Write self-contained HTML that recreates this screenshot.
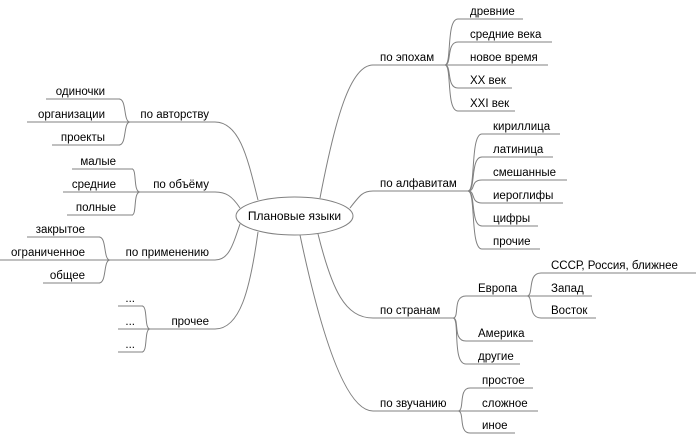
<!DOCTYPE html>
<html><head><meta charset="utf-8"><style>
html,body{margin:0;padding:0;background:#fff;width:696px;height:434px;overflow:hidden}
svg{display:block}
text{font-family:"Liberation Sans",Arial,sans-serif;font-size:11.5px;fill:#000}
.e{text-anchor:end}
path,line{stroke:#808080;stroke-width:1;fill:none}
</style></head><body>
<svg width="696" height="434" viewBox="0 0 696 434" xmlns="http://www.w3.org/2000/svg">
<path d="M258,200 C248,160 240,122 215,122"/>
<path d="M240,208 C232,196 226,192 215,192"/>
<path d="M240,224 C232,248 228,260 215,260"/>
<path d="M258,232 C250,290 240,329 215,329"/>
<path d="M320,198 C335,120 350,65 373,65"/>
<path d="M350,208 C360,195 363,191 373,191"/>
<path d="M318,234 C332,290 345,318 373,318"/>
<path d="M300,235 C320,330 345,411 373,411"/>
<ellipse cx="294.5" cy="216" rx="58.5" ry="19" fill="#fff" stroke="#808080"/>
<text x="294.5" y="220" text-anchor="middle" style="font-size:12px">Плановые языки</text>

<line x1="130" y1="122" x2="215" y2="122"/><text class="e" x="209" y="118">по авторству</text>
<line x1="46" y1="99" x2="120" y2="99"/><text class="e" x="105" y="95">одиночки</text>
<line x1="27" y1="122" x2="130" y2="122"/><text class="e" x="105" y="118">организации</text>
<line x1="52" y1="145" x2="120" y2="145"/><text class="e" x="105" y="141">проекты</text>
<path d="M130,122 C123,122 127,99 119,99"/><path d="M130,122 C123,122 127,145 119,145"/>

<line x1="140" y1="192" x2="215" y2="192"/><text class="e" x="209" y="188">по объёму</text>
<line x1="72" y1="169" x2="133" y2="169"/><text class="e" x="116" y="165">малые</text>
<line x1="63" y1="192" x2="140" y2="192"/><text class="e" x="116" y="188">средние</text>
<line x1="67" y1="215" x2="133" y2="215"/><text class="e" x="116" y="211">полные</text>
<path d="M140,192 C133,192 137,169 132,169"/><path d="M140,192 C133,192 137,215 132,215"/>

<line x1="110" y1="260" x2="215" y2="260"/><text class="e" x="209" y="256">по применению</text>
<line x1="27" y1="237" x2="100" y2="237"/><text class="e" x="85" y="233">закрытое</text>
<line x1="0" y1="260" x2="110" y2="260"/><text class="e" x="85" y="256">ограниченное</text>
<line x1="43" y1="283" x2="100" y2="283"/><text class="e" x="85" y="279">общее</text>
<path d="M110,260 C103,260 107,237 99,237"/><path d="M110,260 C103,260 107,283 99,283"/>

<line x1="150" y1="329" x2="215" y2="329"/><text class="e" x="209" y="325">прочее</text>
<line x1="118" y1="306" x2="143" y2="306"/><text class="e" x="135" y="302">...</text>
<line x1="118" y1="329" x2="150" y2="329"/><text class="e" x="135" y="325">...</text>
<line x1="118" y1="352" x2="143" y2="352"/><text class="e" x="135" y="348">...</text>
<path d="M150,329 C144,329 148,306 142,306"/><path d="M150,329 C144,329 148,352 142,352"/>

<line x1="373" y1="65" x2="445" y2="65"/><text x="380" y="61">по эпохам</text>
<path d="M445,65 C452,65 446,19 458,19"/><line x1="458" y1="19" x2="523" y2="19"/><text x="470" y="15">древние</text>
<path d="M445,65 C452,65 446,42 458,42"/><line x1="458" y1="42" x2="552" y2="42"/><text x="470" y="38">средние века</text>
<line x1="445" y1="65" x2="548" y2="65"/><text x="470" y="61">новое время</text>
<path d="M445,65 C452,65 446,88 458,88"/><line x1="458" y1="88" x2="512" y2="88"/><text x="470" y="84">XX век</text>
<path d="M445,65 C452,65 446,111 458,111"/><line x1="458" y1="111" x2="515" y2="111"/><text x="470" y="107">XXI век</text>

<line x1="373" y1="191" x2="468" y2="191"/><text x="380" y="187">по алфавитам</text>
<path d="M468,191 C476,191 470,134 482,134"/><line x1="482" y1="134" x2="560" y2="134"/><text x="493" y="130">кириллица</text>
<path d="M468,191 C476,191 470,157 482,157"/><line x1="482" y1="157" x2="553" y2="157"/><text x="493" y="153">латиница</text>
<path d="M468,191 C476,191 470,180 482,180"/><line x1="482" y1="180" x2="567" y2="180"/><text x="493" y="176">смешанные</text>
<path d="M468,191 C476,191 470,203 482,203"/><line x1="482" y1="203" x2="563" y2="203"/><text x="493" y="199">иероглифы</text>
<path d="M468,191 C476,191 470,226 482,226"/><line x1="482" y1="226" x2="538" y2="226"/><text x="493" y="222">цифры</text>
<path d="M468,191 C476,191 470,249 482,249"/><line x1="482" y1="249" x2="540" y2="249"/><text x="493" y="245">прочие</text>

<line x1="373" y1="318" x2="453" y2="318"/><text x="380" y="314">по странам</text>
<path d="M453,318 C460,318 452,296 466,296"/><line x1="466" y1="296" x2="527" y2="296"/><text x="478" y="292">Европа</text>
<path d="M527,296 C534,296 527,273 541,273"/><line x1="541" y1="273" x2="696" y2="273"/><text x="551" y="269">СССР, Россия, ближнее</text>
<line x1="527" y1="296" x2="592" y2="296"/><text x="551" y="292">Запад</text>
<path d="M527,296 C534,296 527,318 541,318"/><line x1="541" y1="318" x2="596" y2="318"/><text x="551" y="314">Восток</text>
<path d="M453,318 C460,318 452,341 466,341"/><line x1="466" y1="341" x2="533" y2="341"/><text x="478" y="337">Америка</text>
<path d="M453,318 C460,318 452,364 466,364"/><line x1="466" y1="364" x2="520" y2="364"/><text x="478" y="360">другие</text>

<line x1="373" y1="411" x2="458" y2="411"/><text x="380" y="407">по звучанию</text>
<path d="M458,411 C465,411 458,388 470,388"/><line x1="470" y1="388" x2="533" y2="388"/><text x="482" y="384">простое</text>
<line x1="458" y1="411" x2="538" y2="411"/><text x="482" y="407">сложное</text>
<path d="M458,411 C465,411 458,433 470,433"/><line x1="470" y1="433" x2="515" y2="433"/><text x="482" y="429">иное</text>
</svg>
</body></html>
